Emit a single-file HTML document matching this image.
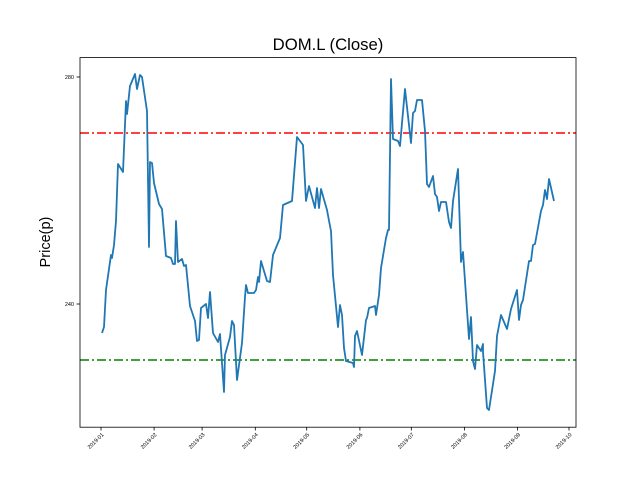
<!DOCTYPE html>
<html><head><meta charset="utf-8"><style>body{margin:0;background:#fff}svg{display:block}</style></head><body>
<svg width="640" height="480" xmlns="http://www.w3.org/2000/svg" font-family="Liberation Sans, DejaVu Sans, sans-serif">
<rect width="640" height="480" fill="#fff"/>
<line x1="80" y1="133" x2="576" y2="133" stroke="#ff0000" stroke-width="1.5" stroke-dasharray="9,3,2,3"/>
<line x1="80" y1="360" x2="576" y2="360" stroke="#008000" stroke-width="1.5" stroke-dasharray="9,3,2,3"/>
<polyline fill="none" stroke="#1f77b4" stroke-width="1.8" stroke-linejoin="round" points="102,333 104,327 106,290 111,255 112,258 114,245 116,221 118,164 123,172 126,101 127,114 130,86 135,74 137,89 140,75 142,77 147,111 149,247 150,162 152,163 154,183 159,204 162,209 166,256 171,258 173,264 175,264 176,221 178,262 182,259 184,266 186,265 190,306 195,321 197,341 199,340 201,308 206,304 208,318 210,292 213,333 218,342 220,334 224,392 225,355 230,337 232,321 234,325 237,380 242,343 245,297 246,285 248,293 254,293 256,290 258,277 259,282 261,261 267,281 270,282 273,255 280,238 283,205 292,201 297,137 303,145 306,201 309,186 315,208 317,188 319,208 321,189 327,210 330,226 331,231 333,275 338,327 340,305 342,315 344,348 346,361 353,363 354,367 355,336 357,331 362,355 366,320 367,318 369,308 375,306 376,315 379,295 381,268 386,238 388,230 389,230 391,79 393,139 398,141 400,146 405,89 411,143 413,113 415,111 417,100 422,100 425,131 427,184 429,187 433,176 435,194 437,197 439,211 441,202 446,202 449,222 451,228 453,201 458,169 461,262 463,252 469,339 471,317 473,361 475,369 477,345 481,351 483,344 483,352 487,408 489,410 495,371 497,336 501,315 507,329 511,309 517,290 519,320 521,305 523,300 529,261 531,261 533,245 535,244 541,211 543,205 545,190 547,199 549,179 554,201"/>
<rect x="80" y="57.6" width="496" height="369.6" fill="none" stroke="#000" stroke-width="0.8"/>
<g stroke="#000" stroke-width="0.8">
<line x1="80" y1="77" x2="76.5" y2="77"/><line x1="80" y1="304" x2="76.5" y2="304"/>
<line x1="101" y1="427" x2="101" y2="430.5"/><line x1="154.1" y1="427" x2="154.1" y2="430.5"/><line x1="202.1" y1="427" x2="202.1" y2="430.5"/><line x1="255.3" y1="427" x2="255.3" y2="430.5"/><line x1="306.7" y1="427" x2="306.7" y2="430.5"/><line x1="359.9" y1="427" x2="359.9" y2="430.5"/><line x1="411.3" y1="427" x2="411.3" y2="430.5"/><line x1="464.4" y1="427" x2="464.4" y2="430.5"/><line x1="517.6" y1="427" x2="517.6" y2="430.5"/><line x1="569" y1="427" x2="569" y2="430.5"/>
</g>
<g font-size="5.5" text-anchor="end">
<text x="74" y="79">280</text><text x="74" y="306">240</text>
</g>
<g font-size="5.5" text-anchor="end">
<text transform="translate(104,435) rotate(-45)">2019-01</text>
<text transform="translate(157.1,435) rotate(-45)">2019-02</text>
<text transform="translate(205.1,435) rotate(-45)">2019-03</text>
<text transform="translate(258.3,435) rotate(-45)">2019-04</text>
<text transform="translate(309.7,435) rotate(-45)">2019-05</text>
<text transform="translate(362.9,435) rotate(-45)">2019-06</text>
<text transform="translate(414.3,435) rotate(-45)">2019-07</text>
<text transform="translate(467.4,435) rotate(-45)">2019-08</text>
<text transform="translate(520.6,435) rotate(-45)">2019-09</text>
<text transform="translate(572,435) rotate(-45)">2019-10</text>
</g>
<text x="328" y="50" font-size="16.7" text-anchor="middle">DOM.L (Close)</text>
<text transform="translate(50,242) rotate(-90)" font-size="14.5" text-anchor="middle">Price(p)</text>
</svg>
</body></html>
